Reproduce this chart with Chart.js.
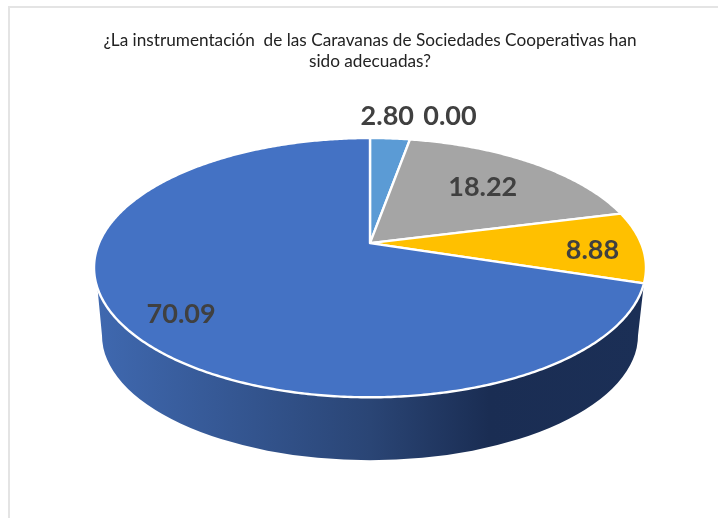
<!DOCTYPE html>
<html>
<head>
<meta charset="utf-8">
<script src="https://cdn.jsdelivr.net/npm/chart.js@4/dist/chart.umd.min.js"></script>
<style>
  html, body { margin: 0; padding: 0; background: #fff; }
  #wrap { position: relative; width: 718px; height: 518px; overflow: hidden; }
  #frame { position: absolute; left: 8px; top: 6px; width: 800px; height: 600px; border: 2px solid #e4e4e4; box-sizing: border-box; }
  canvas { position: absolute; left: 0; top: 0; }
</style>
</head>
<body>
<div id="wrap">
  <div id="frame"></div>
  <canvas id="pie" width="718" height="518"></canvas>
</div>
<script>
var titleLines = [
  "¿La instrumentación  de las Caravanas de Sociedades Cooperativas han",
  "sido adecuadas?"
];
var categories = ["Categoría 1", "Categoría 2", "Categoría 3", "Categoría 4", "Categoría 5"];
var values = [2.80, 0.00, 18.22, 8.88, 70.09];
var colors = ["#5B9BD5", "#ED7D31", "#A5A5A5", "#FFC000", "#4472C4"];

// where each label sits: fraction of the radius along the slice middle, then a nudge in px
var labelRadius = [1.262, 1.276, 0.668, 0.814, 0.814];
var labelDx = [-7, 31, 0, 1, 7];
var labelDy = [0, 0, 0, 4, 5];

// tilted disc: squash of the y axis and how much the far side shrinks
var squash = 0.4613;
var perspective = -0.189;
var sideDrop = 92;        // bottom disc centre below the slice apex
var sideLeftAngle = 250.3 * Math.PI / 180;

function project(arc, angle, frac) {
  var u = frac * Math.sin(angle);
  var v = -frac * Math.cos(angle);
  var d = 1 + perspective * v;
  return {
    x: arc.x + arc.outerRadius * u / d,
    y: arc.y + arc.outerRadius * squash * v / d
  };
}

function drawSide(ctx, arc) {
  var R = arc.outerRadius;
  var right = project(arc, arc.startAngle + Math.PI / 2, 1);
  var left = project(arc, sideLeftAngle, 1);
  var grad = ctx.createLinearGradient(arc.x - R, 0, arc.x + R, 0);
  grad.addColorStop(0, "#3F68AF");
  grad.addColorStop(0.5, "#2A4575");
  grad.addColorStop(0.72, "#1A2D53");
  grad.addColorStop(1, "#1B2F56");
  ctx.beginPath();
  ctx.moveTo(right.x, right.y);
  ctx.ellipse(arc.x, arc.y + sideDrop, R * 0.989, R * squash, 0, 0, Math.PI);
  ctx.lineTo(left.x, left.y);
  ctx.closePath();
  ctx.fillStyle = grad;
  ctx.fill();
}

function drawSlice(ctx, arc, color) {
  var a0 = arc.startAngle + Math.PI / 2;
  var a1 = arc.endAngle + Math.PI / 2;
  if (a1 - a0 < 0.0001) return;
  ctx.beginPath();
  ctx.moveTo(arc.x, arc.y);
  for (var a = a0; a < a1; a += 0.01) {
    var p = project(arc, a, 1);
    ctx.lineTo(p.x, p.y);
  }
  var end = project(arc, a1, 1);
  ctx.lineTo(end.x, end.y);
  ctx.closePath();
  ctx.fillStyle = color;
  ctx.fill();
  ctx.lineWidth = 2.4;
  ctx.strokeStyle = "#fff";
  ctx.lineJoin = "round";
  ctx.stroke();
}

var disc3d = {
  id: "disc3d",
  beforeDatasetDraw: function (chart) {
    var ctx = chart.ctx;
    var arcs = chart.getDatasetMeta(0).data;
    ctx.save();
    drawSide(ctx, arcs[4]);
    arcs.forEach(function (arc, i) {
      drawSlice(ctx, arc, colors[i]);
    });
    ctx.font = "bold 27px Lato";
    ctx.fillStyle = "#404040";
    ctx.textAlign = "center";
    ctx.textBaseline = "middle";
    arcs.forEach(function (arc, i) {
      var mid = (arc.startAngle + arc.endAngle) / 2 + Math.PI / 2;
      var p = project(arc, mid, labelRadius[i]);
      ctx.fillText(values[i].toFixed(2), p.x + labelDx[i], p.y + labelDy[i]);
    });
    ctx.restore();
    return false; // replaces the flat pie
  }
};

var chart = new Chart(document.getElementById("pie").getContext("2d"), {
  type: "pie",
  data: {
    labels: categories,
    datasets: [{
      data: values,
      backgroundColor: colors,
      radius: 271
    }]
  },
  options: {
    responsive: false,
    animation: false,
    layout: { padding: { left: 22, top: 30, bottom: 112 } },
    plugins: {
      legend: { display: false },
      tooltip: { enabled: false },
      title: {
        display: true,
        text: titleLines,
        color: "#222222",
        font: { family: "Lato", size: 17.2, weight: "normal", lineHeight: 1.23 },
        padding: { top: 0, bottom: 8 }
      }
    }
  },
  plugins: [disc3d]
});
</script>
</body>
</html>
